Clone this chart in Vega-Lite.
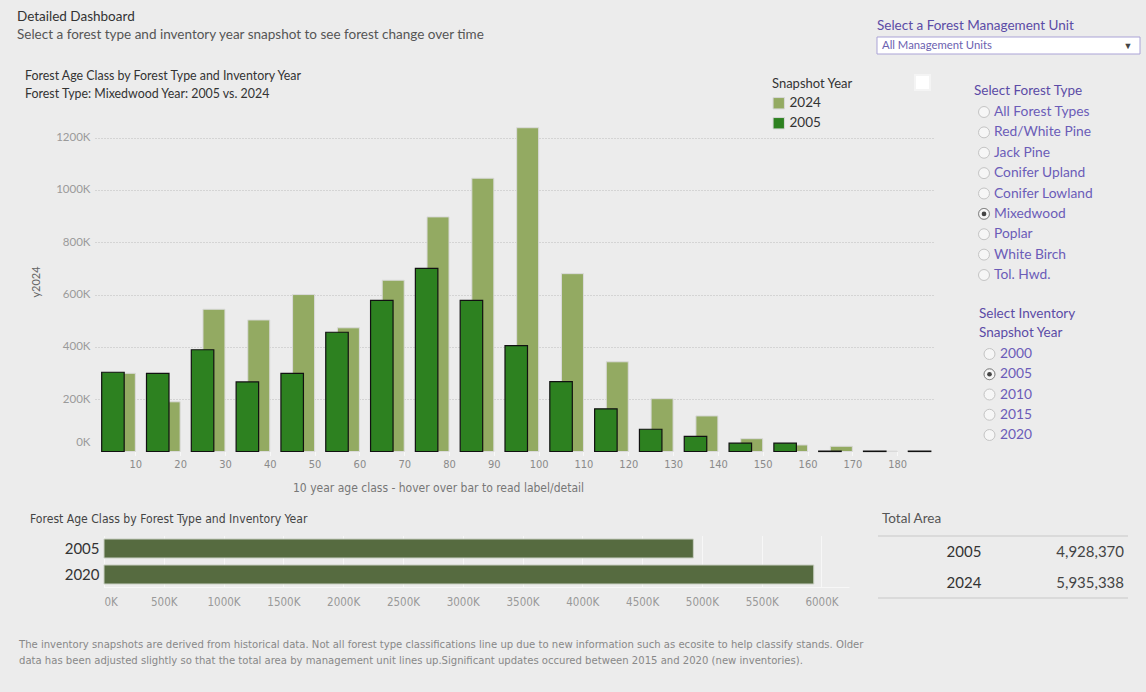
{
  "$schema": "https://vega.github.io/schema/vega-lite/v6.json",
  "width": 1146,
  "height": 692,
  "padding": 0,
  "autosize": {"type": "none"},
  "background": "#ececec",
  "config": {
    "view": {"stroke": null},
    "font": "Lato",
    "axis": {"labelFont": "Lato", "titleFont": "Lato"},
    "legend": {"labelFont": "Lato", "titleFont": "Lato"}
  },
  "datasets": {
    "ageclass": [
      {"age": 10, "year": "2024", "area": 299000},
      {"age": 20, "year": "2024", "area": 190000},
      {"age": 30, "year": "2024", "area": 544000},
      {"age": 40, "year": "2024", "area": 503000},
      {"age": 50, "year": "2024", "area": 600000},
      {"age": 60, "year": "2024", "area": 473000},
      {"age": 70, "year": "2024", "area": 655000},
      {"age": 80, "year": "2024", "area": 897000},
      {"age": 90, "year": "2024", "area": 1045000},
      {"age": 100, "year": "2024", "area": 1238000},
      {"age": 110, "year": "2024", "area": 680000},
      {"age": 120, "year": "2024", "area": 343000},
      {"age": 130, "year": "2024", "area": 202000},
      {"age": 140, "year": "2024", "area": 136000},
      {"age": 150, "year": "2024", "area": 49000},
      {"age": 160, "year": "2024", "area": 25000},
      {"age": 170, "year": "2024", "area": 20000},
      {"age": 180, "year": "2024", "area": 1500},
      {"age": 10, "year": "2005", "area": 303000},
      {"age": 20, "year": "2005", "area": 299000},
      {"age": 30, "year": "2005", "area": 389000},
      {"age": 40, "year": "2005", "area": 266000},
      {"age": 50, "year": "2005", "area": 299000},
      {"age": 60, "year": "2005", "area": 456000},
      {"age": 70, "year": "2005", "area": 578000},
      {"age": 80, "year": "2005", "area": 700000},
      {"age": 90, "year": "2005", "area": 578000},
      {"age": 100, "year": "2005", "area": 405000},
      {"age": 110, "year": "2005", "area": 267000},
      {"age": 120, "year": "2005", "area": 163000},
      {"age": 130, "year": "2005", "area": 85000},
      {"age": 140, "year": "2005", "area": 58000},
      {"age": 150, "year": "2005", "area": 32000},
      {"age": 160, "year": "2005", "area": 32000},
      {"age": 170, "year": "2005", "area": 1500},
      {"age": 180, "year": "2005", "area": 1500},
      {"age": 190, "year": "2005", "area": 1500}
    ],
    "totals": [
      {"year": "2005", "area": 4928370},
      {"year": "2020", "area": 5935338}
    ],
    "table": [
      {"year": "2005", "total": 4928370},
      {"year": "2024", "total": 5935338}
    ],
    "forestTypes": [
      {"label": "All Forest Types", "selected": false},
      {"label": "Red/White Pine", "selected": false},
      {"label": "Jack Pine", "selected": false},
      {"label": "Conifer Upland", "selected": false},
      {"label": "Conifer Lowland", "selected": false},
      {"label": "Mixedwood", "selected": true},
      {"label": "Poplar", "selected": false},
      {"label": "White Birch", "selected": false},
      {"label": "Tol. Hwd.", "selected": false}
    ],
    "years": [
      {"label": "2000", "selected": false},
      {"label": "2005", "selected": true},
      {"label": "2010", "selected": false},
      {"label": "2015", "selected": false},
      {"label": "2020", "selected": false}
    ]
  },
  "layer": [
    {
      "data": {"name": "ageclass"},
      "encoding": {
        "x": {
          "field": "age", "type": "quantitative",
          "scale": {"domain": [1, 188], "range": [95, 933], "nice": false, "zero": false, "padding": 0},
          "axis": {
            "orient": "bottom", "offset": -240.5,
            "values": [10, 20, 30, 40, 50, 60, 70, 80, 90, 100, 110, 120, 130, 140, 150, 160, 170, 180],
            "format": "d", "grid": false, "domain": false,
            "ticks": true, "tickColor": "#f8f8f8", "tickSize": 4,
            "labelColor": "#8a8a8a", "labelFont": "Liberation Sans Narrow, DejaVu Sans Condensed, sans-serif", "labelFontSize": 11, "labelPadding": 3,
            "title": "10 year age class - hover over bar to read label/detail",
            "titleColor": "#777777", "titleFont": "Liberation Sans Narrow, DejaVu Sans Condensed, sans-serif", "titleFontSize": 12, "titleFontWeight": "normal",
            "titleX": 438, "titleY": 36, "titleBaseline": "middle", "titleAlign": "center"
          }
        },
        "y": {
          "field": "area", "type": "quantitative",
          "scale": {"domain": [0, 1300000], "range": [451.5, 111.5], "nice": false, "padding": 0},
          "axis": {
            "orient": "left", "offset": -95,
            "values": [0, 200000, 400000, 600000, 800000, 1000000, 1200000],
            "labelExpr": "(datum.value / 1000) + 'K'",
            "grid": true,
            "gridColor": {"condition": {"test": "datum.value === 0", "value": "transparent"}, "value": "#bdbdbd"},
            "gridDash": [1, 2], "gridWidth": 1,
            "domain": false, "ticks": false,
            "labelColor": "#9a9a9a", "labelFontSize": 11.5, "labelPadding": 5,
            "labelFlush": true, "labelFlushOffset": -4,
            "title": "y2024", "titleColor": "#666666", "titleFontSize": 11, "titleFontWeight": "normal", "titlePadding": 14
          }
        },
        "color": {
          "field": "year", "type": "nominal",
          "scale": {"domain": ["2024", "2005"], "range": ["#93aa62", "#2d8120"]},
          "legend": {
            "orient": "none", "legendX": 772, "legendY": 77.5,
            "title": "Snapshot Year", "titleFontSize": 13, "titleColor": "#333333", "titleFontWeight": "normal", "titlePadding": 6,
            "labelFontSize": 13.5, "labelColor": "#333333", "labelOffset": 4,
            "symbolType": "square", "symbolSize": 130, "rowPadding": 4,
            "symbolStrokeColor": "#d8d8d8", "symbolStrokeWidth": 1
          }
        }
      },
      "layer": [
        {
          "transform": [{"filter": "datum.year === '2024'"}],
          "mark": {"type": "bar", "width": 22, "xOffset": -11, "stroke": "#dadada", "strokeWidth": 1}
        },
        {
          "transform": [{"filter": "datum.year === '2005'"}],
          "mark": {"type": "bar", "width": 22.5, "xOffset": -22.4, "stroke": "#111111", "strokeWidth": 1.2}
        }
      ]
    },
    {
      "data": {"name": "totals"},
      "encoding": {
        "y": {
          "field": "year", "type": "nominal", "sort": null,
          "scale": {"range": [535.5, 587.5], "paddingInner": 0.27, "paddingOuter": 0.135},
          "axis": {"orient": "left", "offset": -104, "domain": false, "ticks": false, "grid": false, "labelFontSize": 15, "labelColor": "#333333", "labelPadding": 5, "title": null}
        }
      },
      "layer": [
        {
          "mark": {"type": "bar", "color": "#566b40", "stroke": "#c9cfc2", "strokeWidth": 1},
          "encoding": {
            "x": {
              "field": "area", "type": "quantitative",
              "scale": {"domain": [0, 6230000], "range": [104, 849], "nice": false, "padding": 0},
              "axis": {"orient": "top", "values": [0, 500000, 1000000, 1500000, 2000000, 2500000, 3000000, 3500000, 4000000, 4500000, 5000000, 5500000, 6000000], "grid": true, "gridColor": "#f7f7f7", "gridWidth": 1, "labels": false, "ticks": false, "domain": false, "title": null}
            }
          }
        },
        {
          "mark": {"type": "bar", "opacity": 0},
          "encoding": {
            "x": {
              "field": "area", "type": "quantitative",
              "axis": {"orient": "bottom", "offset": -105, "values": [0, 500000, 1000000, 1500000, 2000000, 2500000, 3000000, 3500000, 4000000, 4500000, 5000000, 5500000, 6000000], "labelExpr": "(datum.value / 1000) + 'K'", "grid": false, "ticks": false, "domain": true, "domainColor": "#f7f7f7", "labelColor": "#999999", "labelFont": "Liberation Sans Narrow, DejaVu Sans Condensed, sans-serif", "labelFontSize": 11.5, "labelPadding": 9, "title": null}
            }
          }
        }
      ],
      "resolve": {"axis": {"x": "independent"}}
    },
    {
      "data": {"values": [{"text": "Detailed Dashboard"}, {"text": "Select a forest type and inventory year snapshot to see forest change over time"}]},
      "mark": {"type": "text", "align": "left", "baseline": "middle", "fontSize": 13.5, "font": "Lato"},
      "encoding": {
        "text": {"field": "text"},
        "color": {"condition": {"test": "datum.text === 'Detailed Dashboard'", "value": "#333333"}, "value": "#555555"},
        "y": {"field": "text", "type": "nominal", "sort": null, "scale": {"type": "point", "range": [17, 35], "padding": 0}, "axis": null},
        "x": {"datum": 0, "type": "quantitative", "scale": {"domain": [0, 1], "range": [17, 18]}, "axis": null}
      }
    },
    {
      "data": {"values": [{"text": "Forest Age Class by Forest Type and Inventory Year"}, {"text": "Forest Type: Mixedwood Year: 2005 vs. 2024"}]},
      "mark": {"type": "text", "align": "left", "baseline": "middle", "fontSize": 12.4, "font": "Lato", "color": "#333333"},
      "encoding": {
        "text": {"field": "text"},
        "y": {"field": "text", "type": "nominal", "sort": null, "scale": {"type": "point", "range": [76, 94], "padding": 0}, "axis": null},
        "x": {"datum": 0, "type": "quantitative", "scale": {"domain": [0, 1], "range": [25, 26]}, "axis": null}
      }
    },
    {
      "data": {"values": [{"text": "Forest Age Class by Forest Type and Inventory Year"}]},
      "mark": {"type": "text", "align": "left", "baseline": "middle", "fontSize": 12.1, "font": "Liberation Sans Narrow, DejaVu Sans Condensed, sans-serif", "color": "#444444"},
      "encoding": {
        "text": {"field": "text"},
        "y": {"field": "text", "type": "nominal", "scale": {"type": "point", "range": [519, 519], "padding": 0}, "axis": null},
        "x": {"datum": 0, "type": "quantitative", "scale": {"domain": [0, 1], "range": [30, 31]}, "axis": null}
      }
    },
    {
      "data": {"values": [
        {"text": "The inventory snapshots are derived from historical data. Not all forest type classifications line up due to new information such as ecosite to help classify stands. Older"},
        {"text": "data has been adjusted slightly so that the total area by management unit lines up.Significant updates occured between 2015 and 2020 (new inventories)."}
      ]},
      "mark": {"type": "text", "align": "left", "baseline": "middle", "fontSize": 11.2, "font": "Liberation Sans Narrow, DejaVu Sans Condensed, sans-serif", "color": "#888888"},
      "encoding": {
        "text": {"field": "text"},
        "y": {"field": "text", "type": "nominal", "sort": null, "scale": {"type": "point", "range": [645, 661], "padding": 0}, "axis": null},
        "x": {"datum": 0, "type": "quantitative", "scale": {"domain": [0, 1], "range": [19, 20]}, "axis": null}
      }
    },
    {
      "data": {"values": [{"text": "Select a Forest Management Unit"}]},
      "mark": {"type": "text", "align": "left", "baseline": "middle", "fontSize": 13.5, "font": "Lato", "color": "#5b4ba6"},
      "encoding": {
        "text": {"field": "text"},
        "y": {"field": "text", "type": "nominal", "scale": {"type": "point", "range": [26, 26], "padding": 0}, "axis": null},
        "x": {"datum": 0, "type": "quantitative", "scale": {"domain": [0, 1], "range": [877, 878]}, "axis": null}
      }
    },
    {
      "data": {"values": [{"text": "Select Forest Type"}]},
      "mark": {"type": "text", "align": "left", "baseline": "middle", "fontSize": 13.5, "font": "Lato", "color": "#5b4ba6"},
      "encoding": {
        "text": {"field": "text"},
        "y": {"field": "text", "type": "nominal", "scale": {"type": "point", "range": [91, 91], "padding": 0}, "axis": null},
        "x": {"datum": 0, "type": "quantitative", "scale": {"domain": [0, 1], "range": [974, 975]}, "axis": null}
      }
    },
    {
      "data": {"values": [{"text": "Select Inventory"}, {"text": "Snapshot Year"}]},
      "mark": {"type": "text", "align": "left", "baseline": "middle", "fontSize": 13.5, "font": "Lato", "color": "#5b4ba6"},
      "encoding": {
        "text": {"field": "text"},
        "y": {"field": "text", "type": "nominal", "sort": null, "scale": {"type": "point", "range": [314, 333], "padding": 0}, "axis": null},
        "x": {"datum": 0, "type": "quantitative", "scale": {"domain": [0, 1], "range": [979, 980]}, "axis": null}
      }
    },
    {
      "data": {"values": [{"text": "Total Area"}]},
      "mark": {"type": "text", "align": "left", "baseline": "middle", "fontSize": 13.5, "font": "Lato", "color": "#555555"},
      "encoding": {
        "text": {"field": "text"},
        "y": {"field": "text", "type": "nominal", "scale": {"type": "point", "range": [519, 519], "padding": 0}, "axis": null},
        "x": {"datum": 0, "type": "quantitative", "scale": {"domain": [0, 1], "range": [882, 883]}, "axis": null}
      }
    },
    {
      "data": {"values": [{"item": "legend toggle"}]},
      "mark": {"type": "point", "shape": "square", "size": 225, "filled": true, "fill": "#ffffff", "stroke": "#f4f4f4", "opacity": 1},
      "encoding": {
        "y": {"field": "item", "type": "nominal", "scale": {"type": "point", "range": [82.5, 82.5], "padding": 0}, "axis": null},
        "x": {"datum": 0, "type": "quantitative", "scale": {"domain": [0, 1], "range": [922.5, 923.5]}, "axis": null}
      }
    },
    {
      "data": {"name": "forestTypes"},
      "encoding": {
        "y": {"field": "label", "type": "nominal", "sort": null, "scale": {"type": "point", "range": [112, 275], "padding": 0}, "axis": null},
        "x": {"datum": 0, "type": "quantitative", "scale": {"domain": [0, 1], "range": [984, 985]}, "axis": null}
      },
      "layer": [
        {"mark": {"type": "point", "shape": "circle", "size": 120, "filled": true, "fill": "#f6f6f6", "stroke": "#c4c4c4", "strokeWidth": 1, "opacity": 1}},
        {"transform": [{"filter": "datum.selected"}], "mark": {"type": "point", "shape": "circle", "size": 120, "filled": false, "stroke": "#8a8a8a", "strokeWidth": 1, "opacity": 1}},
        {"transform": [{"filter": "datum.selected"}], "mark": {"type": "point", "shape": "circle", "size": 22, "filled": true, "color": "#444444", "opacity": 1}},
        {"mark": {"type": "text", "align": "left", "baseline": "middle", "dx": 10, "fontSize": 13.8, "font": "Lato", "color": "#6b5cb8"}, "encoding": {"text": {"field": "label"}}}
      ]
    },
    {
      "data": {"name": "years"},
      "encoding": {
        "y": {"field": "label", "type": "nominal", "sort": null, "scale": {"type": "point", "range": [354, 435], "padding": 0}, "axis": null},
        "x": {"datum": 0, "type": "quantitative", "scale": {"domain": [0, 1], "range": [989.5, 990.5]}, "axis": null}
      },
      "layer": [
        {"mark": {"type": "point", "shape": "circle", "size": 120, "filled": true, "fill": "#f6f6f6", "stroke": "#c4c4c4", "strokeWidth": 1, "opacity": 1}},
        {"transform": [{"filter": "datum.selected"}], "mark": {"type": "point", "shape": "circle", "size": 120, "filled": false, "stroke": "#8a8a8a", "strokeWidth": 1, "opacity": 1}},
        {"transform": [{"filter": "datum.selected"}], "mark": {"type": "point", "shape": "circle", "size": 22, "filled": true, "color": "#444444", "opacity": 1}},
        {"mark": {"type": "text", "align": "left", "baseline": "middle", "dx": 10.5, "fontSize": 13.8, "font": "Lato", "color": "#6b5cb8"}, "encoding": {"text": {"field": "label"}}}
      ]
    },
    {
      "data": {"values": [{"label": "All Management Units"}]},
      "encoding": {
        "x": {"datum": 0, "type": "quantitative", "scale": {"domain": [0, 1], "range": [877, 1140]}, "axis": null},
        "y": {"datum": 0, "type": "quantitative", "scale": {"domain": [0, 1], "range": [37, 54]}, "axis": null}
      },
      "layer": [
        {"mark": {"type": "rect", "fill": "#ffffff", "stroke": "#aaa3d6", "strokeWidth": 1}, "encoding": {"x2": {"datum": 1}, "y2": {"datum": 1}}},
        {"mark": {"type": "text", "align": "left", "baseline": "middle", "dx": 5, "fontSize": 11.3, "font": "Lato", "color": "#6b61b0"}, "encoding": {"y": {"datum": 0.5, "type": "quantitative"}, "text": {"field": "label"}}},
        {"mark": {"type": "text", "align": "center", "baseline": "middle", "dx": -12, "fontSize": 9, "color": "#444444", "text": "▼"}, "encoding": {"x": {"datum": 1, "type": "quantitative"}, "y": {"datum": 0.5, "type": "quantitative"}}}
      ]
    },
    {
      "data": {"name": "table"},
      "encoding": {
        "y": {"field": "year", "type": "nominal", "sort": null, "scale": {"type": "band", "range": [536, 598], "paddingInner": 0, "paddingOuter": 0}, "axis": null},
        "x": {"datum": 0, "type": "quantitative", "scale": {"domain": [0, 1], "range": [878, 1128]}, "axis": null}
      },
      "layer": [
        {"transform": [{"filter": "datum.year === '2005'"}], "mark": {"type": "rule", "color": "#c8c8c8", "strokeWidth": 1}, "encoding": {"y": {"field": "year", "type": "nominal", "sort": null, "bandPosition": 0}, "x2": {"datum": 1}}},
        {"transform": [{"filter": "datum.year === '2024'"}], "mark": {"type": "rule", "color": "#c8c8c8", "strokeWidth": 1}, "encoding": {"y": {"field": "year", "type": "nominal", "sort": null, "bandPosition": 1}, "x2": {"datum": 1}}},
        {"mark": {"type": "text", "align": "center", "baseline": "middle", "dx": 86, "fontSize": 15, "font": "Lato", "color": "#333333"}, "encoding": {"text": {"field": "year"}}},
        {"mark": {"type": "text", "align": "right", "baseline": "middle", "dx": -4, "fontSize": 15, "font": "Lato", "color": "#444444"}, "encoding": {"x": {"datum": 1, "type": "quantitative"}, "text": {"field": "total", "type": "quantitative", "format": ","}}}
      ]
    }
  ],
  "resolve": {
    "scale": {"x": "independent", "y": "independent"},
    "axis": {"x": "independent", "y": "independent"}
  }
}
